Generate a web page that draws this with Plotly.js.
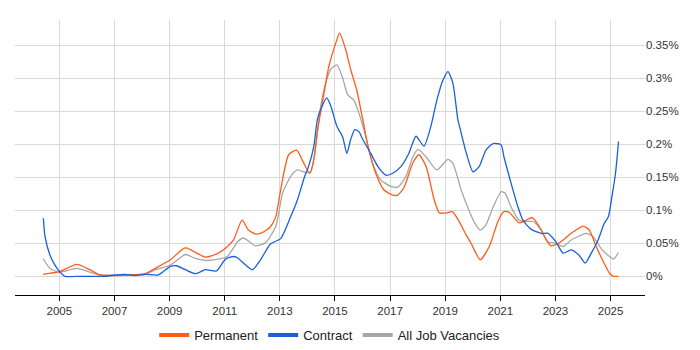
<!DOCTYPE html>
<html><head><meta charset="utf-8">
<script src="https://cdn.plot.ly/plotly-3.0.1.min.js"></script>
<style>html,body{margin:0;padding:0;background:#fff}#chart{width:700px;height:350px}</style>
</head><body><div id="chart"></div>
<script>
const permYears = [2004.41,2005.0,2005.64,2006.1,2006.48,2007.57,2008.12,2008.48,2009.03,2009.57,2010.30,2010.77,2011.10,2011.32,2011.63,2011.86,2012.12,2012.36,2012.66,2012.85,2013.03,2013.32,2013.61,2013.86,2014.08,2014.23,2014.37,2014.56,2014.78,2015.03,2015.17,2015.39,2015.57,2015.79,2016.01,2016.23,2016.48,2016.77,2017.10,2017.28,2017.50,2017.83,2018.05,2018.31,2018.60,2018.79,2019.04,2019.26,2019.48,2019.77,2019.94,2020.27,2020.60,2020.93,2021.13,2021.32,2021.68,2021.94,2022.16,2022.42,2022.67,2022.84,2023.07,2023.28,2023.50,2023.75,2024.01,2024.23,2024.48,2024.74,2024.96,2025.11,2025.29];
const permValues = [0.003,0.007,0.018,0.010,0.002,0.002,0.004,0.012,0.025,0.043,0.029,0.035,0.045,0.055,0.085,0.070,0.064,0.066,0.075,0.090,0.131,0.184,0.191,0.172,0.156,0.176,0.222,0.267,0.318,0.353,0.368,0.343,0.313,0.282,0.237,0.191,0.156,0.131,0.123,0.123,0.134,0.172,0.184,0.166,0.116,0.096,0.096,0.098,0.085,0.062,0.050,0.025,0.045,0.085,0.098,0.097,0.081,0.085,0.089,0.075,0.055,0.046,0.049,0.055,0.063,0.070,0.076,0.070,0.045,0.022,0.005,0.0,0.0];

const contYears = [2004.42,2004.48,2004.66,2004.84,2005.03,2005.21,2005.75,2006.66,2007.03,2007.39,2007.75,2008.12,2008.59,2009.03,2009.25,2009.57,2009.94,2010.30,2010.70,2011.03,2011.32,2011.46,2011.76,2012.01,2012.30,2012.66,2013.03,2013.39,2013.64,2013.90,2014.04,2014.23,2014.37,2014.56,2014.70,2014.84,2015.07,2015.28,2015.43,2015.57,2015.72,2015.87,2016.01,2016.30,2016.56,2016.85,2017.10,2017.39,2017.68,2017.94,2018.23,2018.48,2018.70,2018.92,2019.10,2019.28,2019.46,2019.55,2019.77,2020.01,2020.23,2020.48,2020.74,2021.03,2021.13,2021.39,2021.64,2021.82,2022.12,2022.48,2022.73,2023.02,2023.28,2023.57,2023.86,2024.08,2024.30,2024.55,2024.77,2024.92,2025.07,2025.18,2025.29];
const contValues = [0.088,0.060,0.032,0.017,0.006,0.0,0.0,0.0,0.002,0.003,0.001,0.003,0.002,0.015,0.016,0.010,0.004,0.010,0.008,0.026,0.030,0.028,0.017,0.010,0.025,0.049,0.057,0.090,0.116,0.151,0.166,0.196,0.239,0.260,0.270,0.259,0.227,0.211,0.186,0.207,0.222,0.219,0.207,0.186,0.166,0.153,0.156,0.166,0.186,0.212,0.197,0.227,0.267,0.297,0.310,0.292,0.237,0.222,0.186,0.158,0.166,0.191,0.201,0.199,0.181,0.141,0.105,0.085,0.071,0.065,0.065,0.052,0.035,0.040,0.032,0.020,0.035,0.055,0.080,0.090,0.126,0.156,0.204];

const allYears = [2004.41,2004.66,2004.99,2005.21,2005.64,2006.12,2006.48,2007.57,2008.12,2008.48,2009.03,2009.57,2009.94,2010.30,2010.77,2011.10,2011.46,2011.68,2012.12,2012.48,2012.85,2013.10,2013.39,2013.64,2013.93,2014.12,2014.30,2014.48,2014.66,2014.84,2015.07,2015.28,2015.46,2015.68,2015.87,2016.12,2016.37,2016.66,2017.03,2017.28,2017.57,2017.83,2018.01,2018.30,2018.70,2019.10,2019.28,2019.57,2019.86,2020.08,2020.27,2020.48,2020.74,2021.03,2021.17,2021.39,2021.68,2021.94,2022.19,2022.48,2022.73,2023.02,2023.28,2023.57,2023.86,2024.12,2024.37,2024.66,2024.96,2025.11,2025.29];
const allValues = [0.027,0.012,0.006,0.008,0.012,0.006,0.002,0.002,0.003,0.010,0.017,0.033,0.027,0.024,0.026,0.030,0.052,0.058,0.046,0.051,0.075,0.126,0.151,0.161,0.157,0.158,0.196,0.257,0.292,0.313,0.320,0.300,0.275,0.267,0.247,0.211,0.171,0.146,0.136,0.135,0.151,0.181,0.192,0.181,0.161,0.177,0.171,0.132,0.100,0.080,0.070,0.078,0.105,0.128,0.126,0.105,0.085,0.083,0.083,0.070,0.052,0.050,0.045,0.055,0.061,0.065,0.060,0.042,0.030,0.026,0.036];

const seriesNames = ['Permanent','Contract','All Job Vacancies'];
const seriesColors = ['#ff5c1a','#1a5fdc','#a6a6a6'];
const yTickVals = [0,0.05,0.1,0.15,0.2,0.25,0.3,0.35];
const yTickText = ['0%','0.05%','0.1%','0.15%','0.2%','0.25%','0.3%','0.35%'];
const xTickVals = [2005,2007,2009,2011,2013,2015,2017,2019,2021,2023,2025];

const xs = [permYears, contYears, allYears];
const ys = [permValues, contValues, allValues];
const order = [2,0,1];
const traces = [];
order.forEach(i => {
  traces.push({x: xs[i], y: ys[i], type:'scatter', mode:'lines', name: seriesNames[i],
    line:{color: seriesColors[i], width:1.3, shape:'spline', smoothing:0.6},
    showlegend:false, hoverinfo:'skip'});
});
[0,1,2].forEach(i => {
  traces.push({x:[null], y:[null], type:'scatter', mode:'lines', name: seriesNames[i],
    line:{color: seriesColors[i], width:4}, showlegend:true});
});

const layout = {
  width:700, height:350,
  margin:{l:15, r:55, t:20, b:55, autoexpand:false},
  paper_bgcolor:'#fff', plot_bgcolor:'#fff',
  font:{family:'Liberation Sans, Arial, sans-serif', size:12, color:'#333'},
  showlegend:true,
  legend:{orientation:'h', x:0.471, xref:'container', xanchor:'center', y:0.043, yref:'container', yanchor:'middle',
    font:{size:13, color:'#222'}, itemwidth:30, traceorder:'normal'},
  xaxis:{type:'linear', range:[2003.39, 2026.25], tickvals:xTickVals, ticktext:xTickVals.map(String),
    showgrid:true, gridcolor:'#d9d9d9', gridwidth:1, zeroline:false, automargin:false,
    showline:true, linecolor:'#000', linewidth:1, ticks:'outside', ticklen:5, tickcolor:'#000',
    tickfont:{size:11.5, color:'#333'}},
  yaxis:{range:[-0.0283, 0.388], side:'right', tickvals:yTickVals, ticktext:yTickText, automargin:false,
    showgrid:true, gridcolor:'#d9d9d9', gridwidth:1, zeroline:false, showline:false, ticks:'',
    tickfont:{size:11.5, color:'#333'}}
};
Plotly.newPlot('chart', traces, layout, {displayModeBar:false, staticPlot:true});
</script></body></html>
